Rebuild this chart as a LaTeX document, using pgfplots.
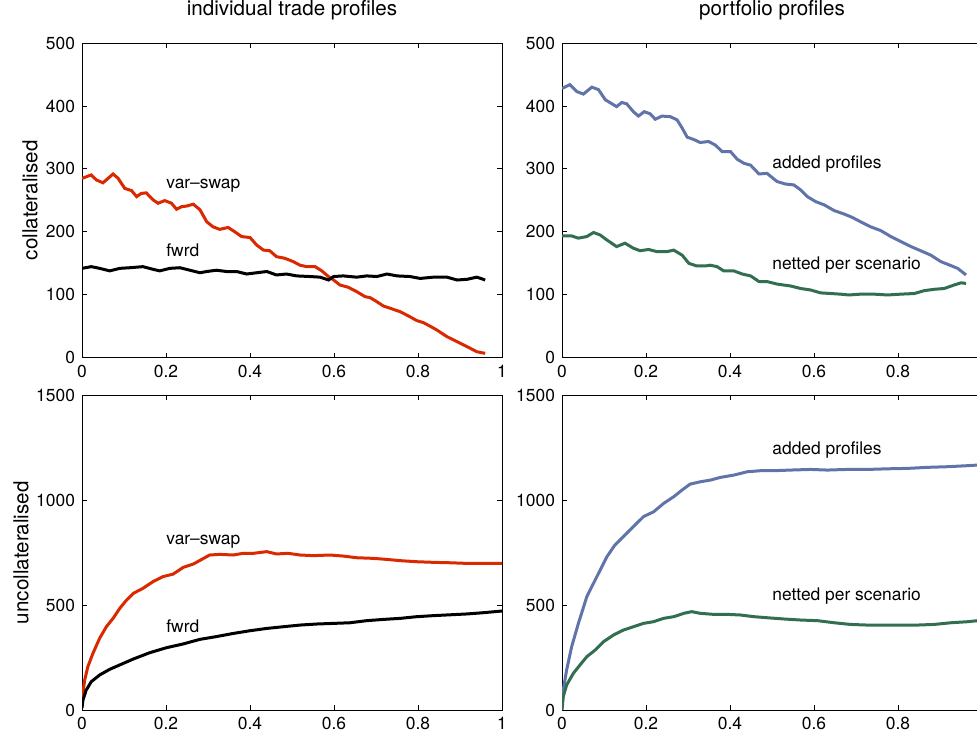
\documentclass[border=0pt]{standalone}
\usepackage{fontspec}
\setmainfont{TeX Gyre Heros}
\usepackage{pgfplots}
\pgfplotsset{compat=1.18}
\definecolor{cred}{RGB}{218,40,0}
\definecolor{cblue}{RGB}{96,116,170}
\definecolor{cgreen}{RGB}{50,110,80}
\pgfplotsset{
  myax/.style={
    width=210pt, height=157.3pt, scale only axis,
    xmin=0, xmax=1,
    xtick={0,0.2,0.4,0.6,0.8,1},
    xticklabels={0,0.2,0.4,0.6,0.8,1},
    tick align=inside,
    major tick length=2.5pt,
    axis line style={line width=0.5pt},
    every tick/.style={black, line width=0.5pt},
    ticklabel style={font=\fontsize{8.7}{10}\selectfont},
    /pgf/number format/assume math mode=true,
    /pgf/number format/1000 sep={},
    title style={at={(axis description cs:0.5,1)}, anchor=base, yshift=8pt, font=\fontsize{10.3}{12}\selectfont},
    ylabel style={font=\fontsize{10.3}{12}\selectfont},
    every axis plot/.append style={line width=1.5pt, no markers},
  },
}
\tikzset{lab/.style={anchor=base west, inner sep=0pt, font=\fontsize{8.7}{10}\selectfont}}
\begin{document}
\begin{tikzpicture}
\useasboundingbox (0,0) rectangle (488.5pt,-365.5pt);
% ---------------- top left
\begin{axis}[myax, at={(41pt,-178.85pt)}, anchor=south west,
  ymin=0, ymax=500, ytick={0,100,200,300,400,500},
  title={individual trade profiles},
  ylabel={collateralised},
  every axis y label/.style={at={(axis description cs:-0.124,0.5)}, rotate=90, anchor=center, font=\fontsize{10.3}{12}\selectfont}]
\addplot[cred] coordinates {
(0,285) (0.022,290.5) (0.034,282.6) (0.05,278) (0.074,292) (0.086,285) (0.102,269) (0.118,265.6) (0.13,256) (0.141,261) (0.153,262) (0.169,251) (0.181,245.5) (0.197,249.7) (0.213,245.5) (0.225,236) (0.237,240) (0.249,241) (0.265,244) (0.281,235) (0.297,216) (0.312,208) (0.328,204) (0.348,207) (0.364,200) (0.38,192.5) (0.40,191) (0.416,179) (0.432,171) (0.447,170) (0.463,160.6) (0.483,158) (0.503,152.7) (0.519,147) (0.535,144.7) (0.555,144.7) (0.571,138) (0.587,128.8) (0.599,123.5) (0.614,115.6) (0.634,111.9) (0.654,105) (0.674,97) (0.686,95.4) (0.702,89) (0.718,82) (0.734,78.5) (0.758,73) (0.781,65) (0.797,59) (0.813,55.7) (0.829,50) (0.845,44) (0.869,33.4) (0.893,25.5) (0.917,17.5) (0.940,9.5) (0.960,6.9)
};
\addplot[black] coordinates {
(0,142) (0.022,144.7) (0.042,142) (0.066,138) (0.09,142) (0.114,143) (0.145,144.7) (0.169,140.5) (0.185,138) (0.209,142) (0.233,143) (0.257,139) (0.281,135) (0.297,137) (0.32,139) (0.344,137) (0.368,137) (0.392,133) (0.416,135) (0.44,137) (0.463,131.5) (0.487,133) (0.511,130) (0.543,129) (0.567,128) (0.587,123.5) (0.599,129) (0.622,130) (0.654,128) (0.678,130) (0.702,129) (0.726,133) (0.75,130) (0.781,129) (0.805,126) (0.837,128) (0.869,128) (0.893,123.5) (0.917,124.6) (0.94,128) (0.96,123.5)
};
\node[lab] at (axis cs:0.2,269) {var–swap};
\node[lab] at (axis cs:0.2,160.6) {fwrd};
\end{axis}
% ---------------- top right
\begin{axis}[myax, at={(281pt,-178.85pt)}, anchor=south west,
  ymin=0, ymax=500, ytick={0,100,200,300,400,500},
  xticklabels={0,0.2,0.4,0.6,0.8,{}},
  title={portfolio profiles}]
\addplot[cblue] coordinates {
(0,428) (0.019,434) (0.035,423) (0.051,419) (0.071,430) (0.087,426) (0.103,410) (0.119,403.5) (0.13,399) (0.142,405.6) (0.154,403.5) (0.17,391) (0.182,384) (0.196,391) (0.21,387.6) (0.222,379) (0.238,384) (0.258,383) (0.274,378) (0.286,365) (0.298,350.5) (0.313,347) (0.329,342) (0.349,343.6) (0.365,338) (0.381,327.7) (0.401,327.7) (0.417,315.5) (0.433,309) (0.449,306) (0.469,292) (0.488,293) (0.512,280) (0.532,276) (0.552,274.6) (0.568,266.7) (0.584,256) (0.604,248) (0.624,243) (0.648,233.8) (0.671,228.5) (0.691,223) (0.711,216) (0.735,208) (0.759,202) (0.783,192.5) (0.807,184.5) (0.831,176.6) (0.854,170) (0.878,163) (0.902,152.7) (0.922,147.4) (0.942,142) (0.962,131.5)
};
\addplot[cgreen] coordinates {
(0,193.5) (0.023,193.5) (0.039,190) (0.059,192.5) (0.075,199) (0.091,195) (0.107,187) (0.13,176.6) (0.15,182) (0.17,174) (0.186,170) (0.206,172) (0.226,168.6) (0.25,168.6) (0.266,171) (0.286,163) (0.302,150) (0.321,145.8) (0.341,145.8) (0.353,147) (0.369,144.7) (0.385,138) (0.409,138) (0.429,133) (0.449,130) (0.469,121) (0.488,121) (0.512,117) (0.544,114) (0.568,110) (0.592,107.6) (0.616,103) (0.64,102) (0.663,101) (0.683,99.7) (0.711,101) (0.743,101) (0.775,99.7) (0.807,101) (0.839,102) (0.862,106.5) (0.886,108.7) (0.91,110) (0.934,115.6) (0.95,119) (0.962,118)
};
\node[lab] at (axis cs:0.5,300) {added profiles};
\node[lab] at (axis cs:0.5,139.5) {netted per scenario};
\end{axis}
% ---------------- bottom left
\begin{axis}[myax, at={(41pt,-355pt)}, anchor=south west,
  ymin=0, ymax=1500, ytick={0,500,1000,1500},
  ylabel={uncollateralised},
  every axis y label/.style={at={(axis description cs:-0.145,0.5)}, rotate=90, anchor=center, font=\fontsize{10.3}{12}\selectfont}]
\addplot[cred] coordinates {
(0,50) (0.0064,143) (0.014,207) (0.026,270) (0.042,342) (0.058,397) (0.074,437) (0.09,485) (0.106,524) (0.122,556) (0.145,580) (0.169,612) (0.193,636) (0.217,648) (0.241,680) (0.265,696) (0.285,718) (0.304,739) (0.328,742) (0.36,739) (0.384,747) (0.408,747) (0.44,755) (0.463,744) (0.491,747) (0.519,739) (0.551,736) (0.59,739) (0.622,734) (0.654,726) (0.694,723) (0.726,718) (0.758,712) (0.797,707) (0.837,704) (0.877,702) (0.917,699) (0.956,699) (1.0,699)
};
\addplot[black] coordinates {
(0,10) (0.0024,48) (0.01,95) (0.022,135) (0.042,167) (0.066,194) (0.09,215) (0.122,243) (0.161,273) (0.201,297) (0.241,315) (0.281,337) (0.32,350) (0.36,365) (0.4,378) (0.44,389) (0.479,397) (0.519,405) (0.559,410) (0.599,413) (0.638,416) (0.678,426) (0.718,432) (0.758,437) (0.797,445) (0.837,450) (0.877,454) (0.917,458) (0.956,464) (1.0,472)
};
\node[lab] at (axis cs:0.2,791) {var–swap};
\node[lab] at (axis cs:0.2,370) {fwrd};
\end{axis}
% ---------------- bottom right
\begin{axis}[myax, at={(281pt,-355pt)}, anchor=south west,
  ymin=0, ymax=1500, ytick={0,500,1000,1500},
  xticklabels={0,0.2,0.4,0.6,0.8,{}}]
\addplot[cblue] coordinates {
(0,8) (0.003,95) (0.011,191) (0.023,302) (0.039,413) (0.059,540) (0.083,636) (0.107,731) (0.126,787) (0.15,834) (0.17,874) (0.194,922) (0.218,945) (0.242,985) (0.266,1017) (0.286,1049) (0.305,1077) (0.329,1088) (0.353,1096) (0.377,1109) (0.409,1120) (0.441,1136) (0.473,1141) (0.504,1141) (0.544,1144) (0.592,1147) (0.632,1144) (0.679,1147) (0.727,1147) (0.775,1150) (0.823,1152) (0.87,1157) (0.918,1160) (0.966,1165) (0.99,1168) (1.0,1169)
};
\addplot[cgreen] coordinates {
(0,0) (0.003,64) (0.011,119) (0.027,175) (0.043,215) (0.059,254) (0.079,286) (0.099,326) (0.123,358) (0.146,381) (0.17,397) (0.194,413) (0.218,421) (0.242,437) (0.266,445) (0.29,461) (0.309,469) (0.329,461) (0.361,456) (0.393,456) (0.425,453) (0.457,445) (0.488,440) (0.528,434) (0.568,429) (0.608,426) (0.648,416) (0.687,408) (0.727,405) (0.767,405) (0.807,405) (0.846,405) (0.886,408) (0.926,416) (0.966,421) (0.99,426) (1.0,428)
};
\node[lab] at (axis cs:0.5,1220) {added profiles};
\node[lab] at (axis cs:0.5,521) {netted per scenario};
\end{axis}
\end{tikzpicture}
\end{document}
